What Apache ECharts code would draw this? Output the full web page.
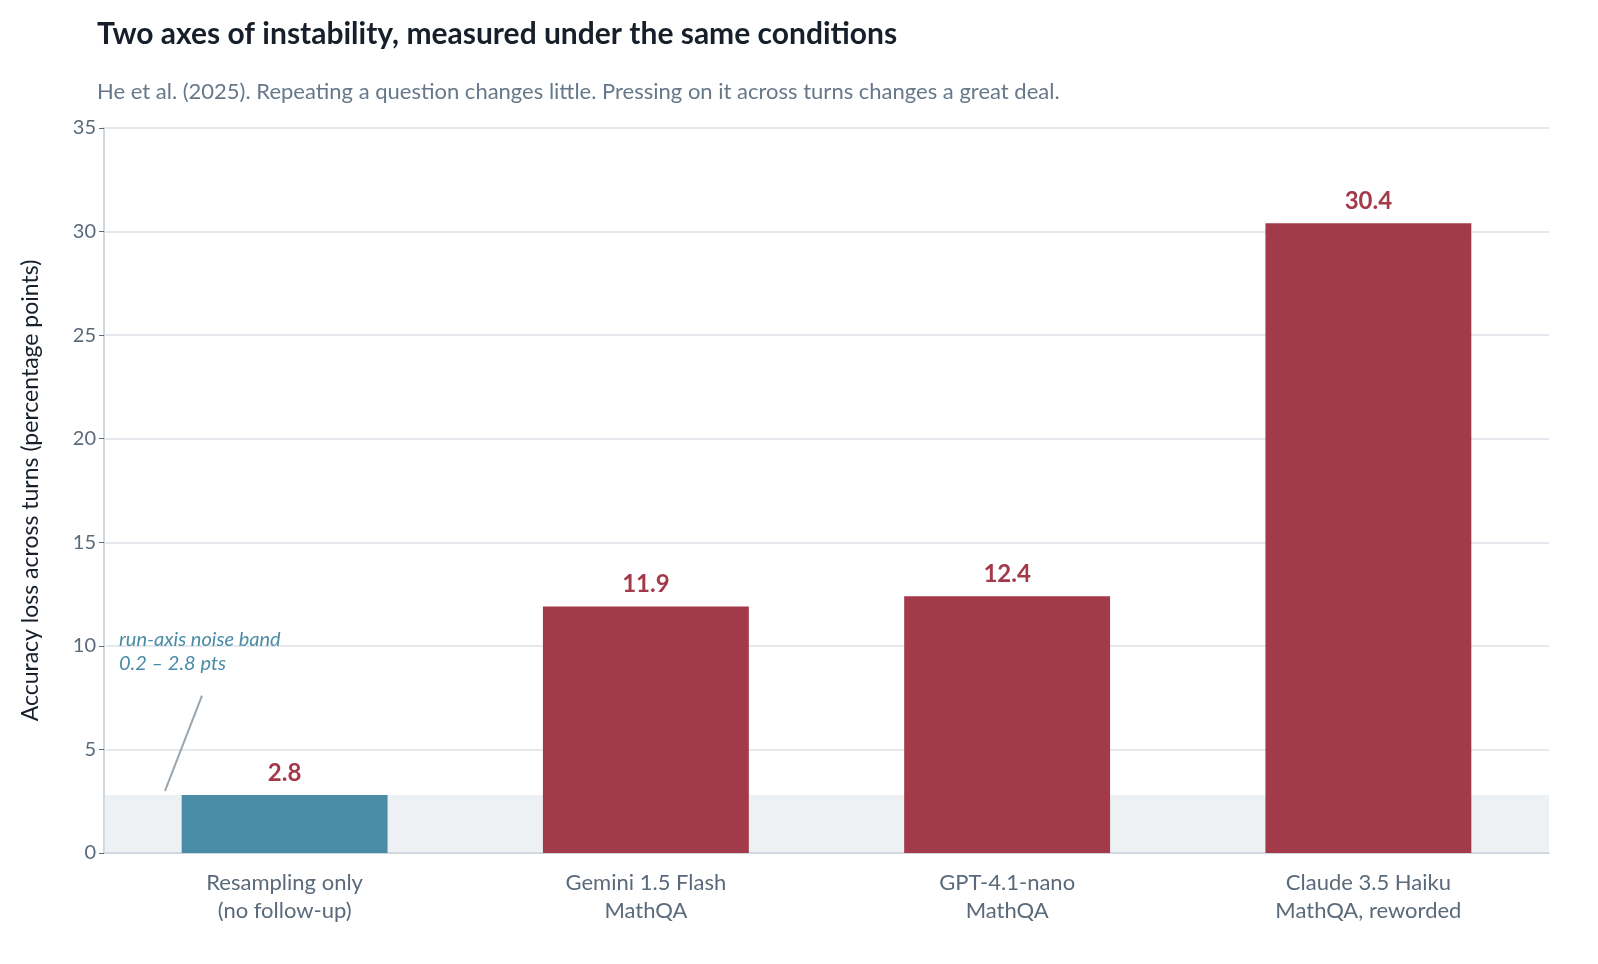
<!DOCTYPE html>
<html>
<head>
<meta charset="utf-8">
<script src="https://cdn.jsdelivr.net/npm/echarts@6/dist/echarts.min.js"></script>
<style>
  html, body { margin: 0; padding: 0; background: #fff; }
  #chart { width: 1598px; height: 964px; }
</style>
</head>
<body>
<div id="chart"></div>
<script>
const categories = ["Resampling only\n(no follow-up)", "Gemini 1.5 Flash\nMathQA", "GPT-4.1-nano\nMathQA", "Claude 3.5 Haiku\nMathQA, reworded"];
const lossValues = [2.8, 11.9, 12.4, 30.4];
const noiseBand = [0, 2.8];
const barColors = ["#4a8ca6", "#a33a4a", "#a33a4a", "#a33a4a"];

const chart = echarts.init(document.getElementById("chart"));
const font = "Lato, 'Noto Sans', sans-serif";

chart.setOption({
  animation: false,
  textStyle: { fontFamily: font },
  title: {
    text: "Two axes of instability, measured under the same conditions",
    subtext: "He et al. (2025). Repeating a question changes little. Pressing on it across turns changes a great deal.",
    left: 92,
    top: 14,
    itemGap: 32,
    textStyle: { fontSize: 30, fontWeight: "bold", color: "#17202a", fontFamily: font },
    subtextStyle: { fontSize: 22, color: "#66788a", fontFamily: font },
  },
  grid: { left: 104, right: 49, top: 128, bottom: 111, containLabel: false },
  xAxis: {
    type: "category",
    data: categories,
    axisLine: { lineStyle: { color: "#cfd6dd", width: 2 } },
    axisTick: { alignWithLabel: true, lineStyle: { color: "#5a6a7a" } },
    axisLabel: { color: "#5a6a7a", fontSize: 22, lineHeight: 28, margin: 16 },
  },
  yAxis: {
    type: "value",
    min: 0,
    max: 35,
    interval: 5,
    name: "Accuracy loss across turns (percentage points)",
    nameLocation: "middle",
    nameGap: 62,
    nameTextStyle: { fontSize: 23, color: "#17202a" },
    axisLine: { show: true, lineStyle: { color: "#cfd6dd", width: 2 } },
    axisTick: { show: true, lineStyle: { color: "#5a6a7a" } },
    axisLabel: { color: "#5a6a7a", fontSize: 20 },
    splitLine: { lineStyle: { color: "#dde2e7", width: 1.5 } },
  },
  series: [
    {
      type: "bar",
      barWidth: "57%",
      data: lossValues.map((v, i) => ({ value: v, itemStyle: { color: barColors[i] } })),
      label: {
        show: true,
        position: "top",
        distance: 10,
        fontSize: 24,
        fontWeight: "bold",
        color: (p) => barColors[p.dataIndex],
      },
      markArea: {
        silent: true,
        itemStyle: { color: "rgba(214,224,231,0.45)" },
        data: [[{ yAxis: noiseBand[0] }, { yAxis: noiseBand[1] }]],
      },
      z: 3,
    },
  ],
});

// annotation for the noise band, placed via data coordinates
const lineTop = chart.convertToPixel({ yAxisIndex: 0 }, 7.6);
const lineBot = chart.convertToPixel({ yAxisIndex: 0 }, 3.0);
const textY = chart.convertToPixel({ yAxisIndex: 0 }, 10.2);
chart.setOption({
  graphic: [
    {
      type: "line",
      shape: { x1: 202, y1: lineTop, x2: 165, y2: lineBot },
      style: { stroke: "#9aa5ae", lineWidth: 2 },
    },
    {
      type: "text",
      left: 119,
      top: textY - 14,
      style: {
        text: "run-axis noise band\n0.2 – 2.8 pts",
        fill: "#4a8ca6",
        font: "italic 20px Lato, sans-serif",
        lineHeight: 24,
      },
    },
  ],
});
</script>
</body>
</html>
